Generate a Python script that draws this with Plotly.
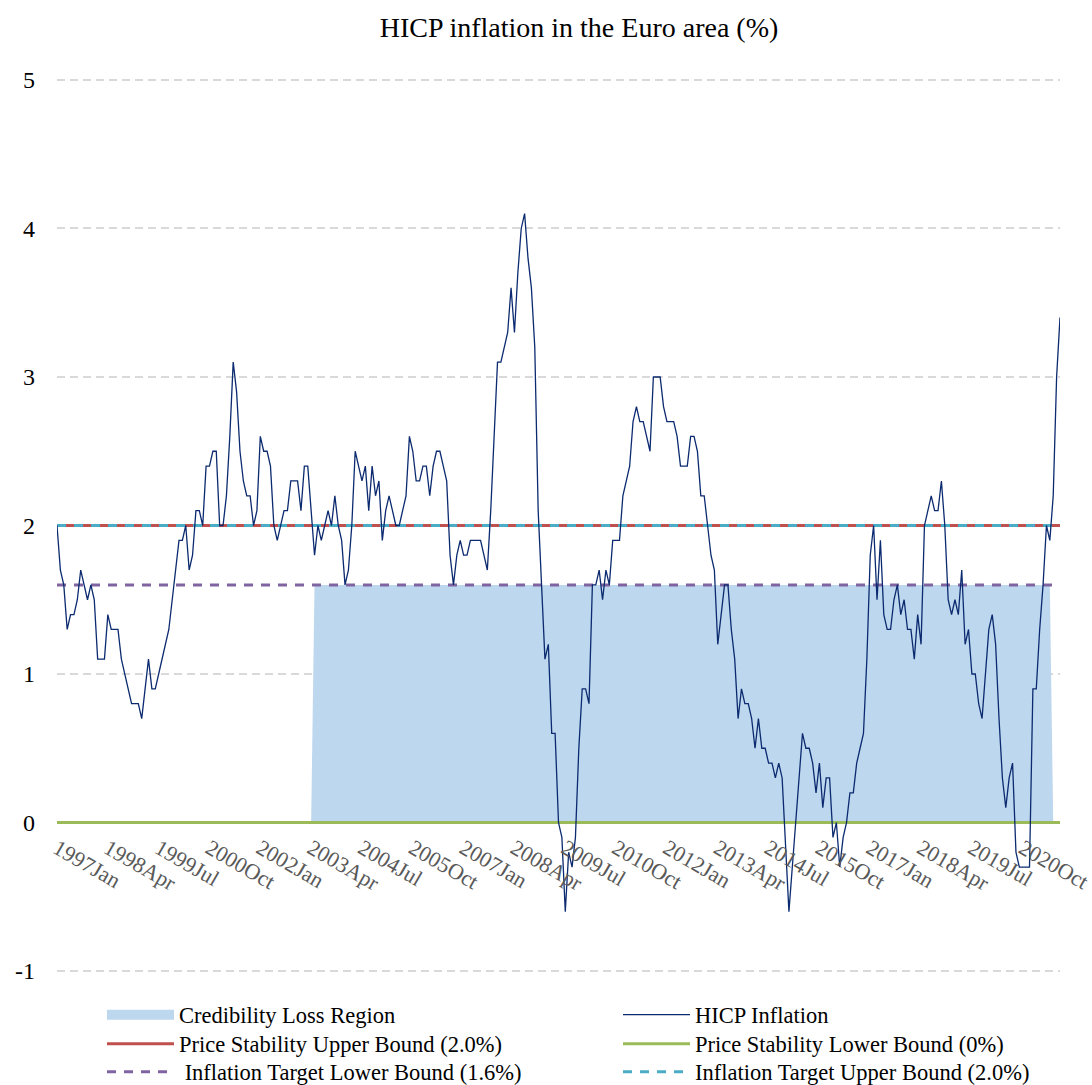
import plotly.graph_objects as go

# ---------------- data ----------------
start_year = 1997
month_names = ["Jan", "Feb", "Mar", "Apr", "May", "Jun",
               "Jul", "Aug", "Sep", "Oct", "Nov", "Dec"]

hicp_1997 = [2.0, 1.7, 1.6, 1.3, 1.4, 1.4, 1.5, 1.7, 1.6, 1.5, 1.6, 1.5]
hicp_1998 = [1.1, 1.1, 1.1, 1.4, 1.3, 1.3, 1.3, 1.1, 1.0, 0.9, 0.8, 0.8]
hicp_1999 = [0.8, 0.7, 0.9, 1.1, 0.9, 0.9, 1.0, 1.1, 1.2, 1.3, 1.5, 1.7]
hicp_2000 = [1.9, 1.9, 2.0, 1.7, 1.8, 2.1, 2.1, 2.0, 2.4, 2.4, 2.5, 2.5]
hicp_2001 = [2.0, 2.0, 2.2, 2.6, 3.1, 2.9, 2.5, 2.3, 2.2, 2.2, 2.0, 2.1]
hicp_2002 = [2.6, 2.5, 2.5, 2.4, 2.0, 1.9, 2.0, 2.1, 2.1, 2.3, 2.3, 2.3]
hicp_2003 = [2.1, 2.4, 2.4, 2.1, 1.8, 2.0, 1.9, 2.0, 2.1, 2.0, 2.2, 2.0]
hicp_2004 = [1.9, 1.6, 1.7, 2.0, 2.5, 2.4, 2.3, 2.4, 2.1, 2.4, 2.2, 2.3]
hicp_2005 = [1.9, 2.1, 2.2, 2.1, 2.0, 2.0, 2.1, 2.2, 2.6, 2.5, 2.3, 2.3]
hicp_2006 = [2.4, 2.4, 2.2, 2.4, 2.5, 2.5, 2.4, 2.3, 1.8, 1.6, 1.8, 1.9]
hicp_2007 = [1.8, 1.8, 1.9, 1.9, 1.9, 1.9, 1.8, 1.7, 2.1, 2.6, 3.1, 3.1]
hicp_2008 = [3.2, 3.3, 3.6, 3.3, 3.7, 4.0, 4.1, 3.8, 3.6, 3.2, 2.1, 1.6]
hicp_2009 = [1.1, 1.2, 0.6, 0.6, 0.0, -0.1, -0.6, -0.2, -0.3, -0.1, 0.5, 0.9]
hicp_2010 = [0.9, 0.8, 1.6, 1.6, 1.7, 1.5, 1.7, 1.6, 1.9, 1.9, 1.9, 2.2]
hicp_2011 = [2.3, 2.4, 2.7, 2.8, 2.7, 2.7, 2.6, 2.5, 3.0, 3.0, 3.0, 2.8]
hicp_2012 = [2.7, 2.7, 2.7, 2.6, 2.4, 2.4, 2.4, 2.6, 2.6, 2.5, 2.2, 2.2]
hicp_2013 = [2.0, 1.8, 1.7, 1.2, 1.4, 1.6, 1.6, 1.3, 1.1, 0.7, 0.9, 0.8]
hicp_2014 = [0.8, 0.7, 0.5, 0.7, 0.5, 0.5, 0.4, 0.4, 0.3, 0.4, 0.3, -0.2]
hicp_2015 = [-0.6, -0.3, 0.0, 0.3, 0.6, 0.5, 0.5, 0.4, 0.2, 0.4, 0.1, 0.3]
hicp_2016 = [0.3, -0.1, 0.0, -0.3, -0.1, 0.0, 0.2, 0.2, 0.4, 0.5, 0.6, 1.1]
hicp_2017 = [1.8, 2.0, 1.5, 1.9, 1.4, 1.3, 1.3, 1.5, 1.6, 1.4, 1.5, 1.3]
hicp_2018 = [1.3, 1.1, 1.4, 1.2, 2.0, 2.1, 2.2, 2.1, 2.1, 2.3, 2.0, 1.5]
hicp_2019 = [1.4, 1.5, 1.4, 1.7, 1.2, 1.3, 1.0, 1.0, 0.8, 0.7, 1.0, 1.3]
hicp_2020 = [1.4, 1.2, 0.7, 0.3, 0.1, 0.3, 0.4, -0.2, -0.3, -0.3, -0.3, -0.3]
hicp_2021 = [0.9, 0.9, 1.3, 1.6, 2.0, 1.9, 2.2, 3.0, 3.4]

hicp = (hicp_1997 + hicp_1998 + hicp_1999 + hicp_2000 + hicp_2001 + hicp_2002
        + hicp_2003 + hicp_2004 + hicp_2005 + hicp_2006 + hicp_2007 + hicp_2008
        + hicp_2009 + hicp_2010 + hicp_2011 + hicp_2012 + hicp_2013 + hicp_2014
        + hicp_2015 + hicp_2016 + hicp_2017 + hicp_2018 + hicp_2019 + hicp_2020
        + hicp_2021)

months = [f"{start_year + k // 12}{month_names[k % 12]}" for k in range(len(hicp))]

# credibility-loss region (piecewise constant runs: value, number of months)
credibility_runs = [(0.0, 76), (1.6, 218), (0.0, 3)]
credibility = [v for v, n in credibility_runs for _ in range(n)]

upper_price_stability = 2.0
lower_price_stability = 0.0
target_lower = 1.6
target_upper = 2.0

tick_labels = months[::15]
y_ticks = [-1, 0, 1, 2, 3, 4, 5]

# ---------------- figure ----------------
SERIF = "Liberation Serif, Times New Roman, serif"
W, H = 1092, 1085
fig = go.Figure()

ends = [months[0], months[-1]]

fig.add_trace(go.Scatter(x=months, y=credibility, mode="lines", fill="tozeroy",
                         fillcolor="#bdd7ee", line=dict(width=0, color="#bdd7ee"),
                         showlegend=False, hoverinfo="skip"))
fig.add_trace(go.Scatter(x=[None], y=[None], mode="lines", name="Credibility Loss Region",
                         line=dict(color="#bdd7ee", width=14), legend="legend"))

fig.add_trace(go.Scatter(x=ends, y=[lower_price_stability] * 2, mode="lines",
                         name="Price Stability Lower Bound (0%)",
                         line=dict(color="#9bbb59", width=3), legend="legend4"))
fig.add_trace(go.Scatter(x=ends, y=[target_lower] * 2, mode="lines",
                         name="\u00a0Inflation Target Lower Bound (1.6%)",
                         line=dict(color="#8064a2", width=3, dash="9px,8px"), legend="legend5"))
fig.add_trace(go.Scatter(x=ends, y=[upper_price_stability] * 2, mode="lines",
                         name="Price Stability Upper Bound (2.0%)",
                         line=dict(color="#c0504d", width=3), legend="legend3"))
fig.add_trace(go.Scatter(x=ends, y=[target_upper] * 2, mode="lines",
                         name="Inflation Target Upper Bound (2.0%)",
                         line=dict(color="#4bacc6", width=3, dash="9px,8px"), legend="legend6"))
fig.add_trace(go.Scatter(x=months, y=hicp, mode="lines", name="HICP Inflation",
                         line=dict(color="#0b2a6f", width=1.3), legend="legend2"))

col_x = [102, 618]
row_y = [1015, 1044, 1072]
legend_slots = {"legend": (0, 0), "legend2": (1, 0), "legend3": (0, 1),
                "legend4": (1, 1), "legend5": (0, 2), "legend6": (1, 2)}
legend_layout = {}
for key, (c, r) in legend_slots.items():
    legend_layout[key] = dict(
        orientation="v", xref="container", yref="container",
        x=col_x[c] / W, y=1 - row_y[r] / H, xanchor="left", yanchor="middle",
        itemwidth=67, font=dict(size=22.5, color="black", family=SERIF),
        bgcolor="rgba(0,0,0,0)", borderwidth=0)

pad = 0.02
y_lo, y_hi = y_ticks[0] - pad, y_ticks[-1] + pad
px_per_unit = (971 - 80) / (y_ticks[-1] - y_ticks[0])
top_px = 80 - pad * px_per_unit
bot_px = 971 + pad * px_per_unit

fig.update_layout(
    width=W, height=H,
    margin=dict(l=57, r=32, t=round(top_px), b=round(H - bot_px), autoexpand=False),
    paper_bgcolor="white", plot_bgcolor="white",
    font=dict(family=SERIF, color="black"),
    title=dict(text="HICP inflation in the Euro area (%)", xref="container",
               x=579 / W, xanchor="center", yref="container", y=1 - 27 / H,
               yanchor="middle", font=dict(size=28, color="black", family=SERIF)),
    showlegend=True,
    **legend_layout,
)

fig.update_xaxes(type="category", categoryorder="array", categoryarray=months,
                 range=[0, len(months) - 1], showgrid=False, zeroline=False,
                 showline=False, ticks="", tickmode="array",
                 tickvals=tick_labels, ticktext=tick_labels, tickangle=30,
                 tickfont=dict(size=22, color="#595959", family=SERIF),
                 anchor="free", position=(0 - y_lo) / (y_hi - y_lo),
                 ticklabelstandoff=8)
fig.update_yaxes(range=[y_lo, y_hi], tickmode="array", tickvals=y_ticks,
                 ticktext=[str(v) for v in y_ticks], showgrid=True,
                 gridcolor="#d9d9d9", gridwidth=2, griddash="8px,5px",
                 zeroline=False, showline=False, ticks="",
                 tickfont=dict(size=24, color="black", family=SERIF),
                 ticklabelstandoff=21)

# the page's default body margin would shift the figure by 8px
fig.write_html("out.html", config={"displayModeBar": False},
               post_script="document.body.style.margin='0';")
